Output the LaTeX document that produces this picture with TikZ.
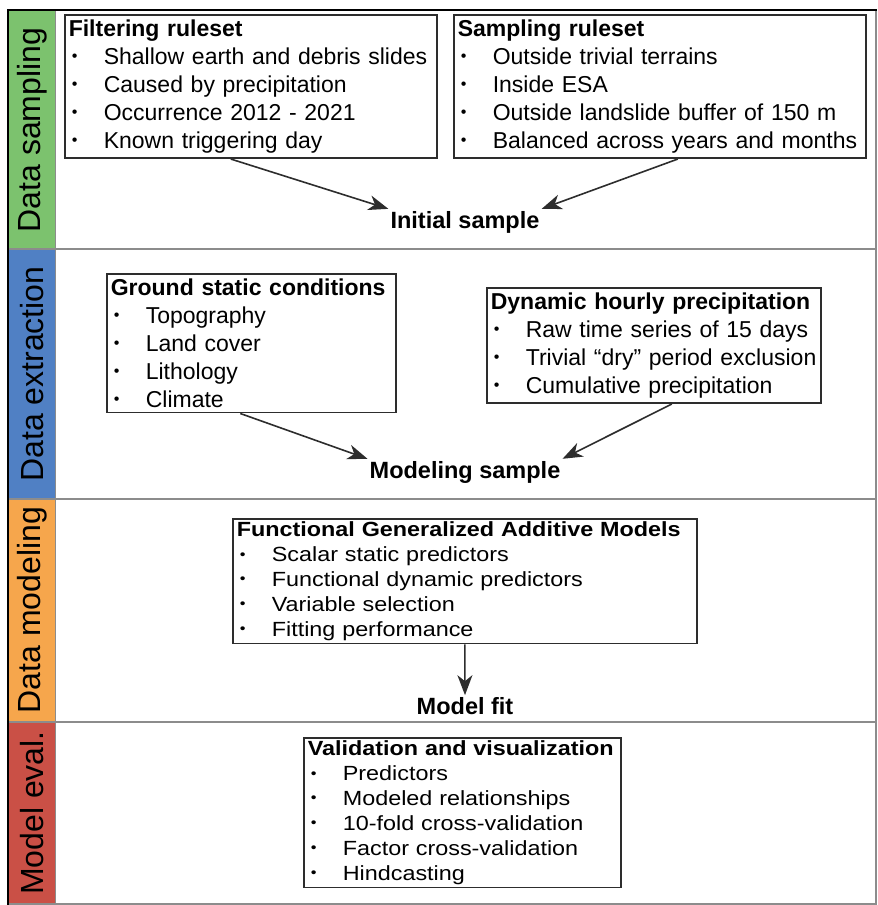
\documentclass[tikz,border=0pt]{standalone}
\usepackage{fontspec}
\setmainfont{Liberation Sans}
\newfontfamily\widesf[FakeStretch=1.14]{Liberation Sans}
\usetikzlibrary{arrows.meta,positioning}

\definecolor{bandgreen}{RGB}{124,194,110}
\definecolor{bandblue}{RGB}{80,128,196}
\definecolor{bandorange}{RGB}{246,166,76}
\definecolor{bandred}{RGB}{202,80,70}
\definecolor{rulegray}{RGB}{140,140,140}
\definecolor{boxgray}{RGB}{45,45,45}
\newcommand{\itm}[1]{\makebox[35pt][l]{\hspace{3pt}\raisebox{2.5pt}{\scalebox{0.7}{•}}}#1}

\begin{document}
\begin{tikzpicture}[x=1pt, y=-1pt,
    rulebox/.style={draw=boxgray, line width=1.6pt, anchor=north west, align=left,
        inner xsep=4pt, inner ysep=5pt, font=\fontsize{23}{28}\selectfont},
    widebox/.style={rulebox, inner ysep=3pt, font=\widesf\fontsize{20.5}{24.9}\selectfont},
    stage/.style={rotate=90, font=\fontsize{32}{38}\selectfont},
    result/.style={inner sep=2pt, font=\bfseries\fontsize{23.5}{28}\selectfont},
    flow/.style={-{Stealth[length=20pt, width=15pt, inset=6pt]}, line width=1.6pt, draw=boxgray}]
    \useasboundingbox (0,0) rectangle (878,905);
    % 左侧色带
    \fill[bandgreen] (9,11) rectangle (55,249);
    \fill[bandblue] (9,249) rectangle (55,499);
    \fill[bandorange] (9,499) rectangle (55,722);
    \fill[bandred] (9,722) rectangle (55,905);
    % 分隔线与外框
    \draw[rulegray, line width=2pt] (9,249) -- (877,249);
    \draw[rulegray, line width=2pt] (9,499) -- (877,499);
    \draw[rulegray, line width=2pt] (9,722) -- (877,722);
    \draw[rulegray, line width=2pt] (9,904) -- (877,904);
    \draw[rulegray, line width=2pt] (876,11) -- (876,905);
    \draw[rulegray, line width=1pt] (55,11) -- (55,905);
    \draw[black, line width=2pt] (8,905) -- (8,10) -- (877,10);
    % 阶段标签
    \node[stage] (s1) at (32,130) {Data sampling};
    \node[stage] (s2) at (32,374) {Data extraction};
    \node[stage] (s3) at (32,610) {Data modeling};
    \node[stage] (s4) at (32,813) {Model eval.};
    % Data sampling
    \node[rulebox, text width=364pt] (filt) at (64,14) {\textbf{Filtering ruleset}\\\itm{Shallow earth and debris slides}\\\itm{Caused by precipitation}\\\itm{Occurrence 2012 - 2021}\\\itm{Known triggering day}};
    \node[rulebox, text width=404pt] (samp) at (453,14) {\textbf{Sampling ruleset}\\\itm{Outside trivial terrains}\\\itm{Inside ESA}\\\itm{Outside landslide buffer of 150 m}\\\itm{Balanced across years and months}};
    \node[result] (init) at (465,222) {Initial sample};
    \draw[flow] ([xshift=-20pt]filt.south) -- (init.north west);
    \draw[flow] ([xshift=18pt]samp.south) -- (init.north east);
    % Data extraction
    \node[rulebox, text width=281pt] (ground) at (106,273) {\textbf{Ground static conditions}\\\itm{Topography}\\\itm{Land cover}\\\itm{Lithology}\\\itm{Climate}};
    \node[rulebox, text width=326pt] (dyn) at (486,287) {\textbf{Dynamic hourly precipitation}\\\itm{Raw time series of 15 days}\\\itm{Trivial “dry” period exclusion}\\\itm{Cumulative precipitation}};
    \node[result] (modsample) at (465,472) {Modeling sample};
    \draw[flow] ([xshift=-11pt]ground.south) -- (modsample.north west);
    \draw[flow] ([xshift=18pt]dyn.south) -- (modsample.north east);
    % Data modeling
    \node[widebox, text width=456pt] (fgam) at (232,518) {\textbf{Functional Generalized Additive Models}\\\itm{Scalar static predictors}\\\itm{Functional dynamic predictors}\\\itm{Variable selection}\\\itm{Fitting performance}};
    \node[result] (fit) at (465,706) {Model fit};
    \draw[flow] (fgam.south) -- (fit.north);
    % Model eval.
    \node[widebox, text width=309pt] (valid) at (303,737) {\textbf{Validation and visualization}\\\itm{Predictors}\\\itm{Modeled relationships}\\\itm{10-fold cross-validation}\\\itm{Factor cross-validation}\\\itm{Hindcasting}};
\end{tikzpicture}
\end{document}
